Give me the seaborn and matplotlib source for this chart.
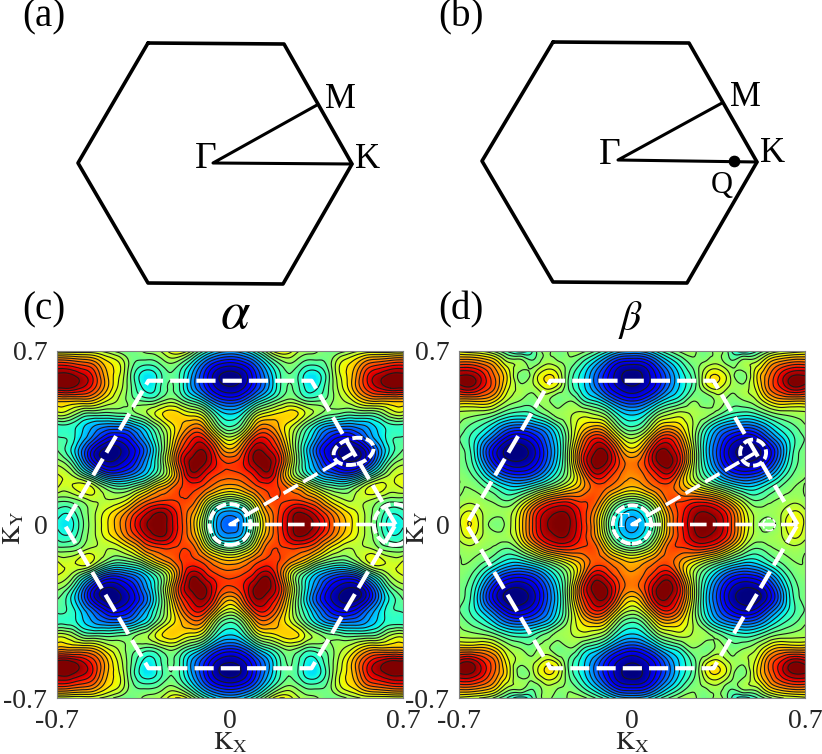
import numpy as np
import seaborn as sns
import matplotlib.pyplot as plt
import matplotlib.tri as mtri
from matplotlib.patches import Ellipse

W, H = 822, 754

# grid of the upper right quadrant, the maps are mirrored in both axes
KS = [0, .05, .1, .15, .2, .25, .3, .35, .4, .45, .5, .55, .6, .65, .7]

MAP_C = [
    [.22, .28, .50, .72, .86, .97, 1.0, .96, .85, .74, .65, .56, .46, .36, .38],
    [.28, .33, .55, .75, .85, .95, .97, .90, .80, .70, .63, .56, .48, .40, .42],
    [.50, .55, .68, .82, .84, .84, .82, .76, .65, .58, .57, .58, .54, .50, .50],
    [.72, .75, .82, .86, .84, .76, .68, .56, .48, .45, .50, .60, .64, .60, .62],
    [.82, .84, .90, .96, .82, .60, .45, .33, .25, .20, .22, .35, .48, .58, .62],
    [.84, .88, .98, 1.0, .88, .62, .40, .25, .12, .05, .03, .12, .30, .48, .55],
    [.72, .82, .97, .95, .84, .60, .38, .20, .08, .01, .00, .08, .25, .40, .48],
    [.58, .68, .86, .88, .76, .58, .42, .28, .16, .10, .12, .22, .33, .42, .44],
    [.42, .50, .70, .76, .70, .62, .50, .38, .30, .27, .27, .30, .36, .42, .42],
    [.33, .38, .54, .62, .66, .68, .62, .55, .50, .48, .47, .48, .50, .58, .60],
    [.16, .20, .32, .42, .50, .54, .48, .47, .50, .56, .62, .70, .72, .72, .72],
    [.03, .06, .16, .28, .42, .48, .39, .38, .48, .60, .72, .85, .93, .98, .98],
    [.00, .03, .14, .28, .42, .47, .38, .36, .47, .62, .72, .87, .95, 1.0, 1.0],
    [.10, .13, .22, .36, .48, .52, .46, .45, .50, .62, .68, .78, .82, .85, .86],
    [.30, .33, .42, .55, .66, .62, .55, .53, .48, .50, .55, .58, .58, .58, .58],
]

MAP_D = [
    [.28, .33, .50, .74, .88, .98, 1.0, .97, .85, .68, .55, .50, .56, .66, .60],
    [.32, .38, .55, .76, .87, .96, .98, .94, .83, .66, .55, .54, .56, .62, .58],
    [.50, .55, .68, .82, .83, .85, .84, .78, .66, .54, .47, .50, .53, .55, .53],
    [.70, .74, .80, .82, .74, .66, .58, .50, .42, .36, .36, .42, .48, .52, .52],
    [.76, .80, .88, .92, .76, .56, .42, .30, .20, .16, .18, .26, .38, .48, .52],
    [.78, .84, .97, 1.0, .86, .58, .36, .20, .08, .03, .04, .12, .28, .44, .50],
    [.68, .78, .96, .97, .84, .58, .34, .18, .05, .00, .00, .08, .24, .42, .50],
    [.56, .64, .82, .88, .76, .55, .36, .22, .12, .07, .09, .20, .32, .42, .48],
    [.42, .48, .64, .70, .66, .56, .44, .33, .27, .24, .26, .34, .42, .47, .52],
    [.32, .36, .48, .55, .58, .56, .54, .50, .44, .42, .44, .50, .54, .55, .56],
    [.15, .19, .29, .38, .44, .52, .49, .54, .50, .52, .56, .66, .72, .72, .72],
    [.03, .06, .14, .26, .36, .46, .58, .62, .55, .55, .62, .78, .88, .96, .94],
    [.00, .03, .12, .24, .36, .46, .62, .66, .56, .50, .64, .78, .90, .98, .98],
    [.08, .10, .20, .32, .42, .50, .54, .56, .50, .55, .58, .70, .78, .82, .82],
    [.30, .32, .40, .48, .54, .54, .49, .54, .44, .36, .42, .50, .56, .58, .60],
]

# zone boundary and path in the maps
BZ_X = [.67, .33, -.33, -.67, -.33, .33, .67]
BZ_Y = [0, .58, .58, 0, -.58, -.58, 0]
PATH_X = [.67, 0, .5]
PATH_Y = [0, 0, .29]

# hexagons of the top panels, in picture pixels
HEX_A_X = [148, 284, 352, 283, 148, 78, 148]
HEX_A_Y = [43, 44, 164, 284, 283, 163, 43]
PATH_A_X = [352, 213, 317]
PATH_A_Y = [164, 163, 105]
HEX_B_X = [553, 689, 757, 687, 553, 482, 553]
HEX_B_Y = [42, 43, 162, 283, 282, 161, 42]
PATH_B_X = [757, 618, 722]
PATH_B_Y = [162, 160, 103]
Q_X = [734]
Q_Y = [161]

sns.set_theme(style="white")
plt.rcParams["font.family"] = ["Liberation Serif", "DejaVu Serif"]
plt.rcParams["mathtext.fontset"] = "stix"

DASH = (0, (4.6, 1.7))


def mirror(quad):
    quad = np.array(quad, dtype=float)
    top = np.hstack([quad[:, :0:-1], quad])
    return np.vstack([top[:0:-1], top])


def axes_px(fig, x0, y0, x1, y1):
    return fig.add_axes([x0 / W, 1 - y1 / H, (x1 - x0) / W, (y1 - y0) / H])


def draw_map(ax, quad, ylabel_x):
    ks = np.array(KS)
    full = np.concatenate([-ks[:0:-1], ks])
    xx, yy = np.meshgrid(full, full)
    z = mirror(quad)
    tri = mtri.Triangulation(xx.ravel(), yy.ravel())
    refiner = mtri.UniformTriRefiner(tri)
    fine, zf = refiner.refine_field(z.ravel(), subdiv=3)
    ax.tripcolor(fine, zf, shading="gouraud", cmap="jet", vmin=0, vmax=1)
    ax.tricontour(fine, zf, levels=np.linspace(0.02, 0.98, 22), colors="k", linewidths=0.8)

    sns.lineplot(x=BZ_X, y=BZ_Y, sort=False, estimator=None, color="white",
                 linewidth=3, linestyle=DASH, ax=ax, legend=False)
    sns.lineplot(x=PATH_X, y=PATH_Y, sort=False, estimator=None, color="white",
                 linewidth=2.6, linestyle=DASH, ax=ax, legend=False)

    ax.set_xlim(-0.7, 0.7)
    ax.set_ylim(-0.7, 0.7)
    ax.set_xticks([-0.7, 0, 0.7], ["-0.7", "0", "0.7"])
    ax.set_yticks([-0.7, 0, 0.7], ["-0.7", "0", "0.7"])
    ax.tick_params(axis="x", length=0, labelsize=20, pad=8)
    ax.tick_params(axis="y", length=0, labelsize=20, pad=7)
    ax.set_xlabel(r"$\mathrm{K_X}$", fontsize=19, va="center")
    ax.set_ylabel(r"$\mathrm{K_Y}$", fontsize=19, va="center")
    ax.xaxis.set_label_coords(0.5, -0.128)
    ax.yaxis.set_label_coords(ylabel_x, 0.49)
    for s in ax.spines.values():
        s.set_color("#808080")
        s.set_linewidth(0.8)


def ring(ax, x, y, w, h, angle=0, lw=2.8):
    ax.add_patch(Ellipse((x, y), w, h, angle=angle, fill=False, edgecolor="white",
                         linewidth=lw, linestyle=(0, (2.6, 0.9)), zorder=5))


def label(x, y, s, size):
    fig.text(x / W, 1 - y / H, s, fontsize=size, ha="center", va="center", color="black")


fig = plt.figure(figsize=(W / 100, H / 100), dpi=100)

top = fig.add_axes([0, 0, 1, 1])
top.set_xlim(0, W)
top.set_ylim(H, 0)
top.axis("off")
for xs, ys, lw in [(HEX_A_X, HEX_A_Y, 2.6), (PATH_A_X, PATH_A_Y, 2.2),
                   (HEX_B_X, HEX_B_Y, 2.6), (PATH_B_X, PATH_B_Y, 2.2)]:
    sns.lineplot(x=xs, y=ys, sort=False, estimator=None, color="black",
                 linewidth=lw, ax=top, legend=False)
sns.scatterplot(x=Q_X, y=Q_Y, color="black", s=85, ax=top, legend=False)
top.set_xlim(0, W)
top.set_ylim(H, 0)

ax_c = axes_px(fig, 57, 351, 403, 698)
ax_d = axes_px(fig, 459, 351, 805, 698)
draw_map(ax_c, MAP_C, -0.125)
draw_map(ax_d, MAP_D, -0.118)

ring(ax_c, 0, 0, .165, .165)
ring(ax_c, .5, .295, .165, .105, angle=15)
ring(ax_c, .665, 0, .165, .165)
ring(ax_d, 0, 0, .155, .155)
ring(ax_d, .49, .29, .105, .105)
ring(ax_d, .555, 0, .05, .05, lw=1.2)
ax_d.text(-.035, .01, "Γ", color="white", fontsize=15, ha="center", va="center", zorder=6)

label(44, 17, "(a)", 28)
label(461, 17, "(b)", 28)
label(44, 310, "(c)", 28)
label(461, 310, "(d)", 28)
label(340, 99, "M", 25)
label(368, 159, "K", 25)
label(206, 159, "Γ", 27)
label(745, 97, "M", 25)
label(773, 153, "K", 25)
label(610, 155, "Γ", 27)
label(722, 185, "Q", 22)
label(235, 315, r"$\alpha$", 38)
label(631, 320, r"$\beta$", 30)

fig.savefig("out.png", dpi=100)
